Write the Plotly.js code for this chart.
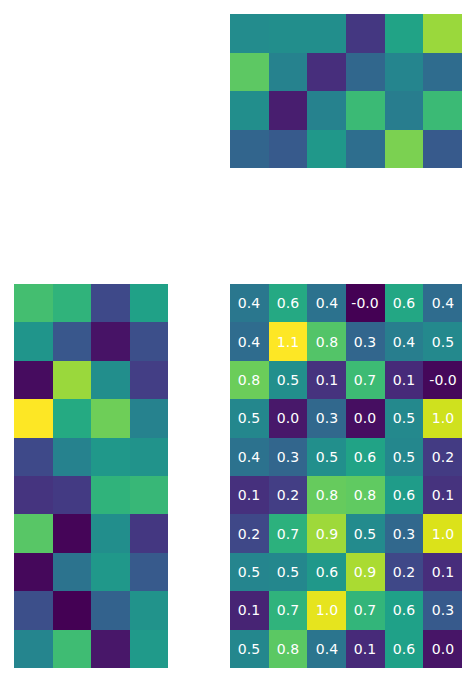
<!DOCTYPE html>
<html>
<head>
<meta charset="utf-8">
<script src="https://cdn.plot.ly/plotly-3.0.1.min.js"></script>
<style>html,body{margin:0;padding:0;background:#fff}#chart{width:476px;height:682px}</style>
</head>
<body>
<div id="chart"></div>
<script>
// Top marginal heatmap (4 rows x 6 cols), values on a 0..1 scale
const topValues = [
  [0.48, 0.49, 0.49, 0.16, 0.58, 0.85],
  [0.75, 0.44, 0.13, 0.33, 0.45, 0.35],
  [0.49, 0.08, 0.44, 0.68, 0.42, 0.68],
  [0.32, 0.28, 0.53, 0.36, 0.80, 0.28]
];
// Left marginal heatmap (10 rows x 4 cols)
const leftValues = [
  [0.70, 0.65, 0.22, 0.57],
  [0.52, 0.27, 0.05, 0.24],
  [0.03, 0.85, 0.49, 0.18],
  [1.00, 0.61, 0.78, 0.44],
  [0.22, 0.44, 0.53, 0.51],
  [0.15, 0.17, 0.65, 0.67],
  [0.74, 0.01, 0.49, 0.16],
  [0.02, 0.38, 0.53, 0.28],
  [0.24, 0.00, 0.31, 0.51],
  [0.45, 0.69, 0.06, 0.54]
];
// Main annotated heatmap (10 rows x 6 cols)
const mainValues = [
  [0.41, 0.64, 0.39, -0.03, 0.63, 0.36],
  [0.36, 1.08, 0.78, 0.33, 0.44, 0.49],
  [0.83, 0.52, 0.13, 0.73, 0.10, -0.01],
  [0.48, 0.04, 0.34, 0.01, 0.49, 1.00],
  [0.39, 0.33, 0.52, 0.61, 0.48, 0.16],
  [0.12, 0.17, 0.82, 0.81, 0.58, 0.13],
  [0.21, 0.68, 0.92, 0.50, 0.34, 1.02],
  [0.47, 0.48, 0.56, 0.94, 0.21, 0.11],
  [0.08, 0.69, 1.04, 0.70, 0.60, 0.28],
  [0.48, 0.80, 0.40, 0.10, 0.60, 0.03]
];
const mainLabels = mainValues.map(r => r.map(v => v.toFixed(1)));

const hidden = {visible: false, showgrid: false, zeroline: false, fixedrange: true};

const traces = [
  {type: 'heatmap', z: topValues, colorscale: 'Viridis', zmin: 0, zmax: 1,
   showscale: false, xaxis: 'x', yaxis: 'y', hoverinfo: 'skip'},
  {type: 'heatmap', z: leftValues, colorscale: 'Viridis', zmin: 0, zmax: 1,
   showscale: false, xaxis: 'x2', yaxis: 'y2', hoverinfo: 'skip'},
  {type: 'heatmap', z: mainValues, colorscale: 'Viridis',
   showscale: false, xaxis: 'x3', yaxis: 'y3', hoverinfo: 'skip',
   text: mainLabels, texttemplate: '%{text}',
   textfont: {family: 'DejaVu Sans', size: 14, color: '#ffffff'}}
];

const layout = {
  width: 476, height: 682,
  margin: {l: 0, r: 0, t: 0, b: 0},
  paper_bgcolor: '#ffffff', plot_bgcolor: '#ffffff',
  showlegend: false,
  xaxis:  Object.assign({}, hidden, {domain: [230/476, 462/476], anchor: 'y'}),
  yaxis:  Object.assign({}, hidden, {domain: [514/682, 668/682], anchor: 'x', autorange: 'reversed'}),
  xaxis2: Object.assign({}, hidden, {domain: [14/476, 168/476], anchor: 'y2'}),
  yaxis2: Object.assign({}, hidden, {domain: [14/682, 398/682], anchor: 'x2', autorange: 'reversed'}),
  xaxis3: Object.assign({}, hidden, {domain: [230/476, 462/476], anchor: 'y3'}),
  yaxis3: Object.assign({}, hidden, {domain: [14/682, 398/682], anchor: 'x3', autorange: 'reversed'})
};

Plotly.newPlot('chart', traces, layout, {displayModeBar: false, staticPlot: true});
</script>
</body>
</html>
